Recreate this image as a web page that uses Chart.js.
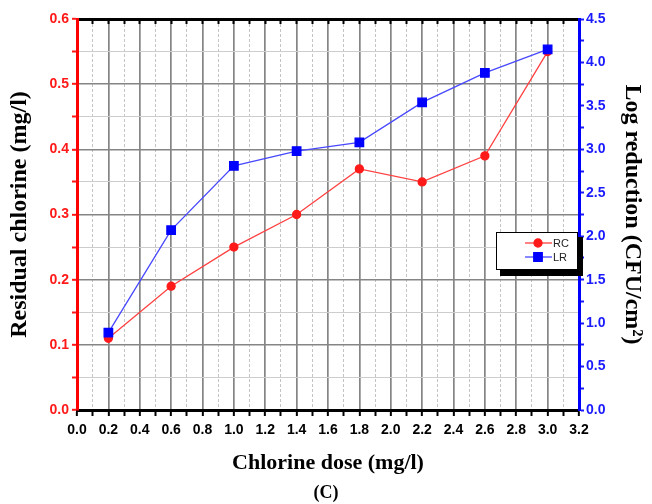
<!DOCTYPE html>
<html>
<head>
<meta charset="utf-8">
<script src="https://cdn.jsdelivr.net/npm/chart.js@4.4.1/dist/chart.umd.min.js"></script>
<style>
  html, body { margin: 0; padding: 0; background: #fff; }
</style>
</head>
<body>
<canvas id="chart" width="652" height="504"></canvas>
<script>
// chlorine dose (mg/l) and the two measured series
const doses = [0.2, 0.6, 1.0, 1.4, 1.8, 2.2, 2.6, 3.0];
const residualChlorine = [0.11, 0.19, 0.25, 0.30, 0.37, 0.35, 0.39, 0.55];
const logReduction = [0.89, 2.07, 2.81, 2.98, 3.08, 3.54, 3.88, 4.15];
const seriesNames = ['RC', 'LR'];

const RED = '#ff1a1a';
const BLUE = '#1a1aff';
const tickFont = { family: "'Liberation Sans', Arial, sans-serif", size: 14, weight: 'bold' };
const titleFont = { family: "'Liberation Serif', 'Times New Roman', serif", size: 22, weight: 'bold' };
const sideTitleFont = { family: "'Liberation Serif', 'Times New Roman', serif", size: 24, weight: 'bold' };

const tickValue = (c) => (c.tick ? c.tick.value : null);
const isStep = (v, step) => v !== null && Math.abs(Math.round(v / step) * step - v) < 1e-6;

// in-plot legend box with a drop shadow
const boxLegend = {
  id: 'boxLegend',
  afterDatasetsDraw(chart) {
    const { ctx } = chart;
    const x = 496, y = 232, w = 81, h = 37;
    ctx.save();
    ctx.fillStyle = '#000';
    ctx.fillRect(x + 4, y + 5, w + 2, h + 2);
    ctx.fillStyle = '#fff';
    ctx.fillRect(x, y, w, h);
    ctx.strokeStyle = '#000';
    ctx.lineWidth = 1;
    ctx.strokeRect(x + 0.5, y + 0.5, w, h);
    chart.data.datasets.forEach((ds, i) => {
      const ry = y + 11 + i * 14;
      ctx.strokeStyle = ds.borderColor;
      ctx.lineWidth = 1.3;
      ctx.beginPath();
      ctx.moveTo(x + 29, ry);
      ctx.lineTo(x + 56, ry);
      ctx.stroke();
      ctx.fillStyle = ds.pointBackgroundColor;
      ctx.strokeStyle = ds.pointBackgroundColor;
      Chart.helpers.drawPoint(ctx, { pointStyle: ds.pointStyle, radius: ds.pointRadius, borderWidth: 1 }, x + 42, ry);
      ctx.fillStyle = '#222';
      ctx.font = "11px 'Liberation Sans', Arial, sans-serif";
      ctx.textBaseline = 'middle';
      ctx.fillText(ds.label, x + 57, ry + 0.5);
    });
    ctx.restore();
  }
};

// panel letter under the x axis title
const panelTag = {
  id: 'panelTag',
  afterDraw(chart) {
    const { ctx } = chart;
    ctx.save();
    ctx.fillStyle = '#000';
    ctx.font = "bold 18px 'Liberation Serif', 'Times New Roman', serif";
    ctx.textAlign = 'center';
    ctx.textBaseline = 'middle';
    ctx.fillText('(C)', 326, 493);
    ctx.restore();
  }
};

new Chart(document.getElementById('chart'), {
  type: 'line',
  data: {
    datasets: [
      {
        label: seriesNames[0],
        data: doses.map((d, i) => ({ x: d, y: residualChlorine[i] })),
        yAxisID: 'y',
        borderColor: '#ff4040',
        borderWidth: 1.3,
        pointStyle: 'circle',
        pointRadius: 4,
        pointBackgroundColor: RED,
        pointBorderColor: RED,
        order: 1,
      },
      {
        label: seriesNames[1],
        data: doses.map((d, i) => ({ x: d, y: logReduction[i] })),
        yAxisID: 'y1',
        borderColor: '#4848ff',
        borderWidth: 1.3,
        pointStyle: 'rect',
        pointRadius: 6,
        pointBackgroundColor: '#0000ff',
        pointBorderColor: '#0000ff',
        order: 0,
      },
    ],
  },
  options: {
    responsive: false,
    animation: false,
    layout: { padding: { top: 19, left: 0, right: 0, bottom: 0 } },
    plugins: { legend: { display: false }, tooltip: { enabled: false } },
    scales: {
      x: {
        type: 'linear',
        position: 'bottom',
        min: 0,
        max: 3.2,
        afterFit: (s) => { s.height = 94; },
        ticks: {
          stepSize: 0.1,
          autoSkip: false,
          maxRotation: 0,
          padding: 6,
          color: '#000',
          font: tickFont,
          callback: (v) => (isStep(v, 0.2) ? v.toFixed(1) : ''),
        },
        grid: {
          color: (c) => {
            const v = tickValue(c);
            if (v === null || v <= 0 || v >= 3.2) return 'rgba(0,0,0,0)';
            return isStep(v, 0.2) ? '#858585' : '#c4c4c4';
          },
          lineWidth: (c) => (isStep(tickValue(c), 0.2) ? 1.7 : 1),
          tickColor: '#000',
          tickWidth: 2,
          tickLength: 6,
        },
        border: {
          color: '#000',
          width: 3,
          dash: (c) => (c.tick && !isStep(c.tick.value, 0.2) ? [3, 2] : []),
        },
        title: {
          display: true,
          text: 'Chlorine dose (mg/l)',
          color: '#000',
          font: titleFont,
          padding: { top: 0, bottom: 27 },
        },
      },
      xTop: {
        type: 'linear',
        position: 'top',
        min: 0,
        max: 3.2,
        afterFit: (s) => { s.height = 0; },
        ticks: { stepSize: 0.1, autoSkip: false, display: false },
        grid: { drawOnChartArea: false, tickColor: '#000', tickWidth: 2, tickLength: -5 },
        border: { color: '#000', width: 3 },
      },
      y: {
        type: 'linear',
        position: 'left',
        min: 0,
        max: 0.6,
        afterFit: (s) => { s.width = 77; },
        ticks: {
          stepSize: 0.05,
          autoSkip: false,
          padding: 3,
          color: RED,
          font: tickFont,
          callback: (v) => (isStep(v, 0.1) ? v.toFixed(1) : ''),
        },
        grid: {
          color: (c) => {
            const v = tickValue(c);
            if (v === null || v <= 0 || v >= 0.6 - 1e-6) return 'rgba(0,0,0,0)';
            return isStep(v, 0.1) ? '#858585' : '#cdcdcd';
          },
          lineWidth: (c) => (isStep(tickValue(c), 0.1) ? 1.6 : 1),
          tickColor: RED,
          tickWidth: 2,
          tickLength: 5,
        },
        border: { color: '#ff0000', width: 3 },
        title: {
          display: true,
          text: 'Residual chlorine (mg/l)',
          color: '#000',
          font: sideTitleFont,
          padding: { top: 5, bottom: 0 },
        },
      },
      y1: {
        type: 'linear',
        position: 'right',
        min: 0,
        max: 4.5,
        afterFit: (s) => { s.width = 73; },
        ticks: {
          stepSize: 0.25,
          autoSkip: false,
          padding: 2,
          color: BLUE,
          font: tickFont,
          callback: (v) => (isStep(v, 0.5) ? v.toFixed(1) : ''),
        },
        grid: { drawOnChartArea: false, tickColor: BLUE, tickWidth: 2, tickLength: 5 },
        border: { color: '#0000ff', width: 3 },
        title: {
          display: true,
          text: 'Log reduction (CFU/cm²)',
          color: '#000',
          font: sideTitleFont,
          padding: { top: 5, bottom: 0 },
        },
      },
    },
  },
  plugins: [boxLegend, panelTag],
});
</script>
</body>
</html>
